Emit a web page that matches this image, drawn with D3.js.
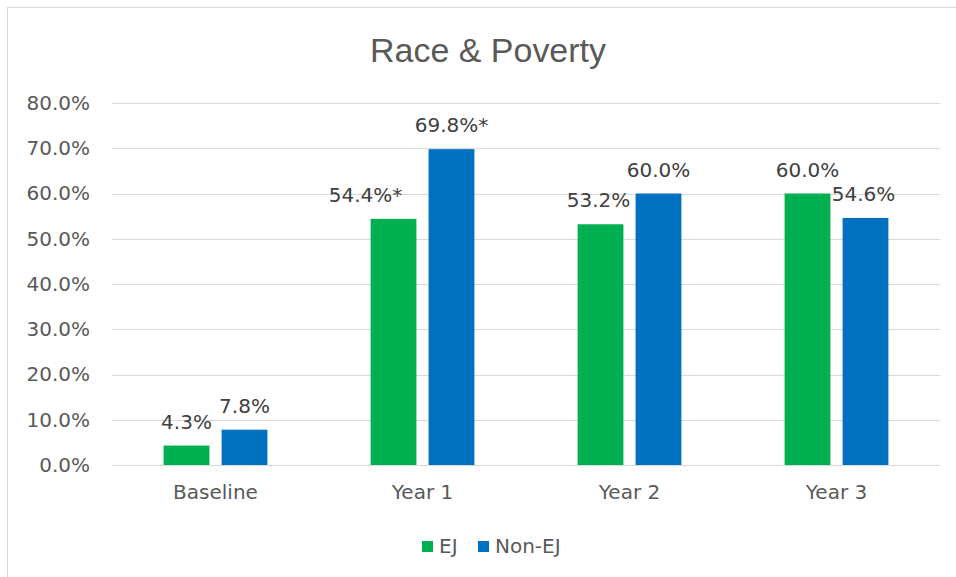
<!DOCTYPE html>
<html>
<head>
<meta charset="utf-8">
<script src="https://cdn.jsdelivr.net/npm/d3@7"></script>
<style>
  body { margin: 0; background: #fff; }
  text { font-family: "DejaVu Sans", sans-serif; }
</style>
</head>
<body>
<div id="chart"></div>
<script>
/**
 * DATA
 * */
const categories = ["Baseline", "Year 1", "Year 2", "Year 3"];
const seriesNames = ["EJ", "Non-EJ"];
const ejValues = [4.3, 54.4, 53.2, 60.0];
const nonEjValues = [7.8, 69.8, 60.0, 54.6];
const ejLabels = ["4.3%", "54.4%*", "53.2%", "60.0%"];
const nonEjLabels = ["7.8%", "69.8%*", "60.0%", "54.6%"];
const yTicks = [0, 10, 20, 30, 40, 50, 60, 70, 80];

/**
 * CONSTANTS
 * */
const width = 956,
  height = 577,
  margin = { top: 103, bottom: 112, left: 112, right: 16 };
const colors = ["#00B050", "#0070C0"];

const svg = d3.select("#chart")
  .append("svg")
  .attr("width", width)
  .attr("height", height);

// chart area border
svg.append("rect")
  .attr("x", 7.5).attr("y", 7.5)
  .attr("width", 960).attr("height", 600)
  .attr("fill", "none")
  .attr("stroke", "#d9d9d9");

svg.append("text")
  .attr("x", 488).attr("y", 62)
  .attr("text-anchor", "middle")
  .attr("font-size", 33)
  .attr("fill", "#595959")
  .attr("textLength", 236)
  .attr("lengthAdjust", "spacingAndGlyphs")
  .style("font-family", "'Liberation Sans', sans-serif")
  .text("Race & Poverty");

const x = d3.scaleBand()
  .domain(categories)
  .range([margin.left, width - margin.right]);

const y = d3.scaleLinear()
  .domain([0, 80])
  .range([height - margin.bottom, margin.top]);

const inner = d3.scaleBand()
  .domain(seriesNames)
  .range([0, x.bandwidth()])
  .paddingInner(0.21)
  .paddingOuter(0.89);

// gridlines
svg.append("g")
  .selectAll("line")
  .data(yTicks)
  .join("line")
  .attr("x1", margin.left)
  .attr("x2", width - margin.right)
  .attr("y1", d => Math.round(y(d)) + 0.5)
  .attr("y2", d => Math.round(y(d)) + 0.5)
  .attr("stroke", "#d9d9d9")
  .attr("stroke-width", 1.2);

// y axis labels
const yAxis = d3.axisLeft(y)
  .tickValues(yTicks)
  .tickFormat(d => d.toFixed(1) + "%")
  .tickSize(0)
  .tickPadding(22);

svg.append("g")
  .attr("transform", `translate(${margin.left},0)`)
  .call(yAxis)
  .call(g => g.select(".domain").remove())
  .selectAll("text")
  .attr("font-size", 20)
  .attr("fill", "#595959")
  .style("font-family", "'DejaVu Sans', sans-serif");

// x axis labels
const xAxis = d3.axisBottom(x).tickSize(0).tickPadding(20);
svg.append("g")
  .attr("transform", `translate(0,${y(0)})`)
  .call(xAxis)
  .call(g => g.select(".domain").remove())
  .selectAll("text")
  .attr("font-size", 20)
  .attr("fill", "#595959")
  .style("font-family", "'DejaVu Sans', sans-serif");

// bars
const rows = categories.map((c, i) => ({
  category: c,
  values: [
    { series: "EJ", value: ejValues[i], label: ejLabels[i], color: colors[0] },
    { series: "Non-EJ", value: nonEjValues[i], label: nonEjLabels[i], color: colors[1] }
  ]
}));

// small label nudges where Excel moved labels to avoid overlap
const labelShift = { "Year 1|EJ": -28, "Year 2|EJ": -2, "Year 3|Non-EJ": -2 };

const group = svg.append("g")
  .selectAll("g")
  .data(rows)
  .join("g")
  .attr("transform", d => `translate(${x(d.category)},0)`);

group.selectAll("rect")
  .data(d => d.values)
  .join("rect")
  .attr("x", d => inner(d.series))
  .attr("y", d => y(d.value))
  .attr("width", inner.bandwidth())
  .attr("height", d => y(0) - y(d.value))
  .attr("fill", d => d.color);

group.each(function(row) {
  d3.select(this).selectAll("text.lbl")
    .data(row.values)
    .join("text")
    .attr("class", "lbl")
    .attr("x", d => inner(d.series) + inner.bandwidth() / 2 + (labelShift[row.category + "|" + d.series] || 0))
    .attr("y", d => y(d.value) - 17)
    .attr("text-anchor", "middle")
    .attr("font-size", 20)
    .attr("fill", "#404040")
    .text(d => d.label);
});

// legend
const legend = svg.append("g")
  .selectAll("g")
  .data(seriesNames)
  .join("g")
  .attr("transform", (d, i) => `translate(${[422, 478][i]},541)`);

legend.append("rect")
  .attr("width", 11).attr("height", 11)
  .attr("fill", (d, i) => colors[i]);

legend.append("text")
  .attr("x", 17).attr("y", 12)
  .attr("font-size", 20)
  .attr("fill", "#595959")
  .text(d => d);
</script>
</body>
</html>
